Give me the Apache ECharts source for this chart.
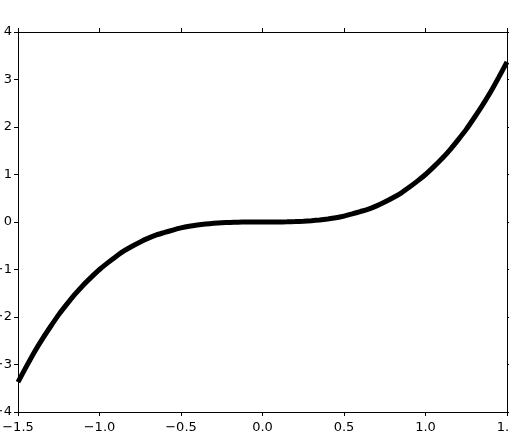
<!DOCTYPE html>
<html>
<head>
<meta charset="utf-8">
<title>cubic</title>
<script src="https://cdn.jsdelivr.net/npm/echarts@6/dist/echarts.min.js"></script>
<style>
html, body { margin: 0; padding: 0; background: #fff; }
#main { width: 509px; height: 445px; }
</style>
</head>
<body>
<div id="main"></div>
<script type="text/javascript">
// values
var xs = [-1.5, -1.45, -1.4, -1.35, -1.3, -1.25, -1.2, -1.15, -1.1, -1.05, -1.0, -0.95, -0.9, -0.85, -0.8, -0.75,
          -0.7, -0.65, -0.6, -0.55, -0.5, -0.45, -0.4, -0.35, -0.3, -0.25, -0.2, -0.15, -0.1, -0.05, 0.0,
          0.05, 0.1, 0.15, 0.2, 0.25, 0.3, 0.35, 0.4, 0.45, 0.5, 0.55, 0.6, 0.65, 0.7, 0.75,
          0.8, 0.85, 0.9, 0.95, 1.0, 1.05, 1.1, 1.15, 1.2, 1.25, 1.3, 1.35, 1.4, 1.45, 1.5];
var ys = [-3.37, -3.05, -2.74, -2.46, -2.2, -1.95, -1.73, -1.52, -1.33, -1.16, -1.0, -0.86, -0.73, -0.61, -0.51, -0.42,
          -0.34, -0.27, -0.22, -0.17, -0.125, -0.09, -0.064, -0.043, -0.027, -0.016, -0.008, -0.003, -0.001, 0.0, 0.0,
          0.0, 0.001, 0.003, 0.008, 0.016, 0.027, 0.043, 0.064, 0.09, 0.125, 0.17, 0.22, 0.27, 0.34, 0.42,
          0.51, 0.61, 0.73, 0.86, 1.0, 1.16, 1.33, 1.52, 1.73, 1.95, 2.2, 2.46, 2.74, 3.05, 3.37];

var pts = [];
for (var i = 0; i < xs.length; i++) {
    pts.push([xs[i], ys[i]]);
}

function minus(s) { return String(s).replace('-', '\u2212'); }

var myChart = echarts.init(document.getElementById('main'));

var lbl = { color: '#000', fontFamily: 'DejaVu Sans', fontSize: 13 };
var axLine = { show: true, onZero: false, lineStyle: { color: '#000', width: 1 } };
var tick = { show: true, inside: false, length: 4, lineStyle: { color: '#000', width: 1 } };

myChart.setOption({
    animation: false,
    grid: { left: 18, right: 2, top: 32, bottom: 33, containLabel: false, outerBoundsMode: 'none' },
    xAxis: [
        {
            type: 'value', min: -1.5, max: 1.5, interval: 0.5, position: 'bottom',
            axisLine: axLine, axisTick: tick, splitLine: { show: false },
            axisLabel: Object.assign({ margin: 9, showMinLabel: true, showMaxLabel: true,
                formatter: function (v) { return minus(v.toFixed(1)); } }, lbl)
        },
        {
            type: 'value', min: -1.5, max: 1.5, interval: 0.5, position: 'top',
            axisLine: axLine, axisTick: tick, splitLine: { show: false },
            axisLabel: { show: false }
        }
    ],
    yAxis: [
        {
            type: 'value', min: -4, max: 4, interval: 1, position: 'left',
            axisLine: axLine, axisTick: tick, splitLine: { show: false },
            axisLabel: Object.assign({ margin: 6, showMinLabel: true, showMaxLabel: true,
                formatter: function (v) { return minus(v); } }, lbl)
        },
        {
            type: 'value', min: -4, max: 4, interval: 1, position: 'right',
            axisLine: axLine, axisTick: tick, splitLine: { show: false },
            axisLabel: { show: false }
        }
    ],
    series: [{
        type: 'line',
        data: pts,
        smooth: 0.2,
        symbol: 'none',
        clip: true,
        lineStyle: { color: '#000', width: 5 }
    }]
});
</script>
</body>
</html>
